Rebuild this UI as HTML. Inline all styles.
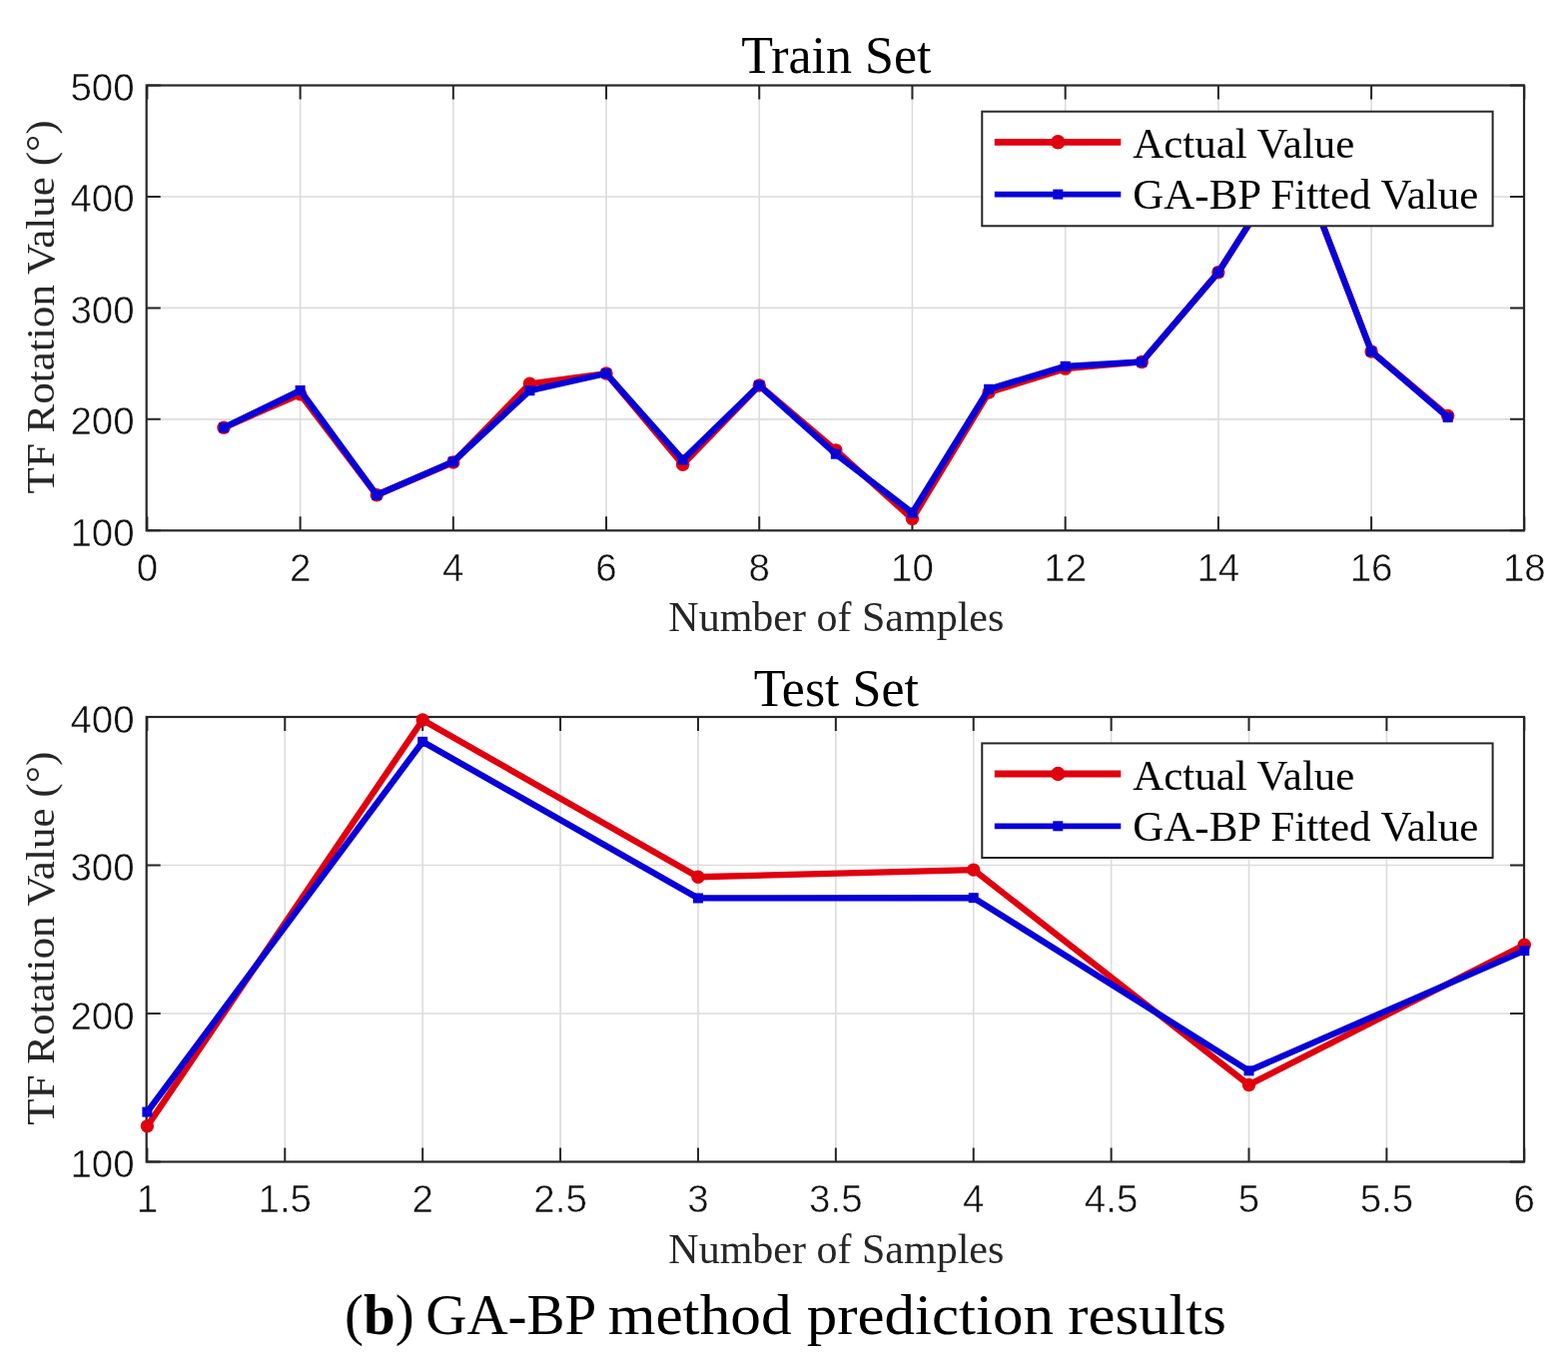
<!DOCTYPE html>
<html><head><meta charset="utf-8"><title>GA-BP method prediction results</title>
<style>html,body{margin:0;padding:0;background:#fff;}svg{display:block;}</style>
</head><body>
<svg width="1570" height="1370" viewBox="0 0 1570 1370">
<rect width="1570" height="1370" fill="#fff"/>
<path d="M300.61 85.5V531.3M453.82 85.5V531.3M607.03 85.5V531.3M760.24 85.5V531.3M913.46 85.5V531.3M1066.67 85.5V531.3M1219.88 85.5V531.3M1373.09 85.5V531.3M146.7 419.85H1526M146.7 308.4H1526M146.7 196.95H1526" stroke="#dcdcdc" stroke-width="1.6" fill="none"/>
<path d="M147.4 531.3v-14M147.4 85.5v14M300.61 531.3v-14M300.61 85.5v14M453.82 531.3v-14M453.82 85.5v14M607.03 531.3v-14M607.03 85.5v14M760.24 531.3v-14M760.24 85.5v14M913.46 531.3v-14M913.46 85.5v14M1066.67 531.3v-14M1066.67 85.5v14M1219.88 531.3v-14M1219.88 85.5v14M1373.09 531.3v-14M1373.09 85.5v14M1526.3 531.3v-14M1526.3 85.5v14M146.7 531.3h14M1526 531.3h-14M146.7 419.85h14M1526 419.85h-14M146.7 308.4h14M1526 308.4h-14M146.7 196.95h14M1526 196.95h-14M146.7 85.5h14M1526 85.5h-14" stroke="#262626" stroke-width="2" fill="none"/>
<rect x="146.7" y="85.5" width="1379.3" height="445.8" fill="none" stroke="#262626" stroke-width="2.2"/>
<g>
<polyline points="224.01,428.32 300.61,394.77 377.22,495.75 453.82,462.98 530.43,384.3 607.03,374.04 683.64,465.32 760.24,385.97 836.85,450.83 913.46,519.6 990.06,393.1 1066.67,369.14 1143.27,362.45 1219.88,272.74 1296.48,152.37 1373.09,351.98 1449.69,416.51" fill="none" stroke="#e0000e" stroke-width="6.3" stroke-linejoin="round"/>
<circle cx="224.01" cy="428.32" r="6.7" fill="#e0000e"/>
<circle cx="300.61" cy="394.77" r="6.7" fill="#e0000e"/>
<circle cx="377.22" cy="495.75" r="6.7" fill="#e0000e"/>
<circle cx="453.82" cy="462.98" r="6.7" fill="#e0000e"/>
<circle cx="530.43" cy="384.3" r="6.7" fill="#e0000e"/>
<circle cx="607.03" cy="374.04" r="6.7" fill="#e0000e"/>
<circle cx="683.64" cy="465.32" r="6.7" fill="#e0000e"/>
<circle cx="760.24" cy="385.97" r="6.7" fill="#e0000e"/>
<circle cx="836.85" cy="450.83" r="6.7" fill="#e0000e"/>
<circle cx="913.46" cy="519.6" r="6.7" fill="#e0000e"/>
<circle cx="990.06" cy="393.1" r="6.7" fill="#e0000e"/>
<circle cx="1066.67" cy="369.14" r="6.7" fill="#e0000e"/>
<circle cx="1143.27" cy="362.45" r="6.7" fill="#e0000e"/>
<circle cx="1219.88" cy="272.74" r="6.7" fill="#e0000e"/>
<circle cx="1296.48" cy="152.37" r="6.7" fill="#e0000e"/>
<circle cx="1373.09" cy="351.98" r="6.7" fill="#e0000e"/>
<circle cx="1449.69" cy="416.51" r="6.7" fill="#e0000e"/>
<polyline points="224.01,428.32 300.61,390.98 377.22,495.75 453.82,462.42 530.43,391.21 607.03,374.04 683.64,460.42 760.24,385.97 836.85,454.73 913.46,513.47 990.06,389.76 1066.67,366.8 1143.27,362.45 1219.88,272.74 1296.48,152.37 1373.09,351.98 1449.69,417.96" fill="none" stroke="#0800d8" stroke-width="6.3" stroke-linejoin="round"/>
<rect x="219.01" y="423.32" width="10" height="10" fill="#0800d8"/>
<rect x="295.61" y="385.98" width="10" height="10" fill="#0800d8"/>
<rect x="372.22" y="490.75" width="10" height="10" fill="#0800d8"/>
<rect x="448.82" y="457.42" width="10" height="10" fill="#0800d8"/>
<rect x="525.43" y="386.21" width="10" height="10" fill="#0800d8"/>
<rect x="602.03" y="369.04" width="10" height="10" fill="#0800d8"/>
<rect x="678.64" y="455.42" width="10" height="10" fill="#0800d8"/>
<rect x="755.24" y="380.97" width="10" height="10" fill="#0800d8"/>
<rect x="831.85" y="449.73" width="10" height="10" fill="#0800d8"/>
<rect x="908.46" y="508.47" width="10" height="10" fill="#0800d8"/>
<rect x="985.06" y="384.76" width="10" height="10" fill="#0800d8"/>
<rect x="1061.67" y="361.8" width="10" height="10" fill="#0800d8"/>
<rect x="1138.27" y="357.45" width="10" height="10" fill="#0800d8"/>
<rect x="1214.88" y="267.74" width="10" height="10" fill="#0800d8"/>
<rect x="1291.48" y="147.37" width="10" height="10" fill="#0800d8"/>
<rect x="1368.09" y="346.98" width="10" height="10" fill="#0800d8"/>
<rect x="1444.69" y="412.96" width="10" height="10" fill="#0800d8"/>
</g>
<rect x="983.3" y="111.7" width="511.3" height="114.6" fill="#fff" stroke="#262626" stroke-width="2"/>
<line x1="995.8" y1="142.3" x2="1122.3" y2="142.3" stroke="#e0000e" stroke-width="6.8"/>
<circle cx="1059.3" cy="142.3" r="7.2" fill="#e0000e"/>
<line x1="995.8" y1="194.6" x2="1122.3" y2="194.6" stroke="#0800d8" stroke-width="5.8"/>
<rect x="1054.3" y="189.6" width="10" height="10" fill="#0800d8"/>
<text x="1134.3" y="158.3" font-family="'Liberation Serif', 'Times New Roman', serif" font-size="43" fill="#000" textLength="222" lengthAdjust="spacingAndGlyphs">Actual Value</text>
<text x="1134.3" y="209.4" font-family="'Liberation Serif', 'Times New Roman', serif" font-size="43" fill="#000" textLength="346" lengthAdjust="spacingAndGlyphs">GA-BP Fitted Value</text>
<text x="147.4" y="581.8" text-anchor="middle" font-family="'Liberation Sans', Arial, sans-serif" font-size="38.5" fill="#111" stroke="#fff" stroke-width="0.5">0</text>
<text x="300.61" y="581.8" text-anchor="middle" font-family="'Liberation Sans', Arial, sans-serif" font-size="38.5" fill="#111" stroke="#fff" stroke-width="0.5">2</text>
<text x="453.82" y="581.8" text-anchor="middle" font-family="'Liberation Sans', Arial, sans-serif" font-size="38.5" fill="#111" stroke="#fff" stroke-width="0.5">4</text>
<text x="607.03" y="581.8" text-anchor="middle" font-family="'Liberation Sans', Arial, sans-serif" font-size="38.5" fill="#111" stroke="#fff" stroke-width="0.5">6</text>
<text x="760.24" y="581.8" text-anchor="middle" font-family="'Liberation Sans', Arial, sans-serif" font-size="38.5" fill="#111" stroke="#fff" stroke-width="0.5">8</text>
<text x="913.46" y="581.8" text-anchor="middle" font-family="'Liberation Sans', Arial, sans-serif" font-size="38.5" fill="#111" stroke="#fff" stroke-width="0.5">10</text>
<text x="1066.67" y="581.8" text-anchor="middle" font-family="'Liberation Sans', Arial, sans-serif" font-size="38.5" fill="#111" stroke="#fff" stroke-width="0.5">12</text>
<text x="1219.88" y="581.8" text-anchor="middle" font-family="'Liberation Sans', Arial, sans-serif" font-size="38.5" fill="#111" stroke="#fff" stroke-width="0.5">14</text>
<text x="1373.09" y="581.8" text-anchor="middle" font-family="'Liberation Sans', Arial, sans-serif" font-size="38.5" fill="#111" stroke="#fff" stroke-width="0.5">16</text>
<text x="1526.3" y="581.8" text-anchor="middle" font-family="'Liberation Sans', Arial, sans-serif" font-size="38.5" fill="#111" stroke="#fff" stroke-width="0.5">18</text>
<text x="134.7" y="546.8" text-anchor="end" font-family="'Liberation Sans', Arial, sans-serif" font-size="38.5" fill="#111" stroke="#fff" stroke-width="0.5">100</text>
<text x="134.7" y="435.35" text-anchor="end" font-family="'Liberation Sans', Arial, sans-serif" font-size="38.5" fill="#111" stroke="#fff" stroke-width="0.5">200</text>
<text x="134.7" y="323.9" text-anchor="end" font-family="'Liberation Sans', Arial, sans-serif" font-size="38.5" fill="#111" stroke="#fff" stroke-width="0.5">300</text>
<text x="134.7" y="212.45" text-anchor="end" font-family="'Liberation Sans', Arial, sans-serif" font-size="38.5" fill="#111" stroke="#fff" stroke-width="0.5">400</text>
<text x="134.7" y="101" text-anchor="end" font-family="'Liberation Sans', Arial, sans-serif" font-size="38.5" fill="#111" stroke="#fff" stroke-width="0.5">500</text>
<text x="837.35" y="73.3" text-anchor="middle" font-family="'Liberation Serif', 'Times New Roman', serif" font-size="52" fill="#000">Train Set</text>
<text x="837.35" y="632.3" text-anchor="middle" font-family="'Liberation Serif', 'Times New Roman', serif" font-size="42" fill="#262626">Number of Samples</text>
<text transform="translate(53.5 307.4) rotate(-90)" text-anchor="middle" font-family="'Liberation Serif', 'Times New Roman', serif" font-size="41" fill="#262626" textLength="374" lengthAdjust="spacingAndGlyphs">TF Rotation Value (°)</text>
<path d="M285.29 718V1163.5M423.18 718V1163.5M561.07 718V1163.5M698.96 718V1163.5M836.85 718V1163.5M974.74 718V1163.5M1112.63 718V1163.5M1250.52 718V1163.5M1388.41 718V1163.5M146.7 1015H1526M146.7 866.5H1526" stroke="#dcdcdc" stroke-width="1.6" fill="none"/>
<path d="M147.4 1163.5v-14M147.4 718v14M285.29 1163.5v-14M285.29 718v14M423.18 1163.5v-14M423.18 718v14M561.07 1163.5v-14M561.07 718v14M698.96 1163.5v-14M698.96 718v14M836.85 1163.5v-14M836.85 718v14M974.74 1163.5v-14M974.74 718v14M1112.63 1163.5v-14M1112.63 718v14M1250.52 1163.5v-14M1250.52 718v14M1388.41 1163.5v-14M1388.41 718v14M1526.3 1163.5v-14M1526.3 718v14M146.7 1163.5h14M1526 1163.5h-14M146.7 1015h14M1526 1015h-14M146.7 866.5h14M1526 866.5h-14M146.7 718h14M1526 718h-14" stroke="#262626" stroke-width="2" fill="none"/>
<rect x="146.7" y="718" width="1379.3" height="445.5" fill="none" stroke="#262626" stroke-width="2.2"/>
<g>
<polyline points="147.4,1127.86 423.18,720.97 698.96,878.23 974.74,871.1 1250.52,1086.43 1526.3,946.24" fill="none" stroke="#e0000e" stroke-width="6.3" stroke-linejoin="round"/>
<circle cx="147.4" cy="1127.86" r="6.7" fill="#e0000e"/>
<circle cx="423.18" cy="720.97" r="6.7" fill="#e0000e"/>
<circle cx="698.96" cy="878.23" r="6.7" fill="#e0000e"/>
<circle cx="974.74" cy="871.1" r="6.7" fill="#e0000e"/>
<circle cx="1250.52" cy="1086.43" r="6.7" fill="#e0000e"/>
<circle cx="1526.3" cy="946.24" r="6.7" fill="#e0000e"/>
<polyline points="147.4,1113.6 423.18,742.8 698.96,899.47 974.74,899.17 1250.52,1072.32 1526.3,952.04" fill="none" stroke="#0800d8" stroke-width="6.3" stroke-linejoin="round"/>
<rect x="142.4" y="1108.6" width="10" height="10" fill="#0800d8"/>
<rect x="418.18" y="737.8" width="10" height="10" fill="#0800d8"/>
<rect x="693.96" y="894.47" width="10" height="10" fill="#0800d8"/>
<rect x="969.74" y="894.17" width="10" height="10" fill="#0800d8"/>
<rect x="1245.52" y="1067.32" width="10" height="10" fill="#0800d8"/>
<rect x="1521.3" y="947.04" width="10" height="10" fill="#0800d8"/>
</g>
<rect x="983.3" y="744.4" width="511.3" height="114.6" fill="#fff" stroke="#262626" stroke-width="2"/>
<line x1="995.8" y1="775" x2="1122.3" y2="775" stroke="#e0000e" stroke-width="6.8"/>
<circle cx="1059.3" cy="775" r="7.2" fill="#e0000e"/>
<line x1="995.8" y1="827.3" x2="1122.3" y2="827.3" stroke="#0800d8" stroke-width="5.8"/>
<rect x="1054.3" y="822.3" width="10" height="10" fill="#0800d8"/>
<text x="1134.3" y="791" font-family="'Liberation Serif', 'Times New Roman', serif" font-size="43" fill="#000" textLength="222" lengthAdjust="spacingAndGlyphs">Actual Value</text>
<text x="1134.3" y="842.1" font-family="'Liberation Serif', 'Times New Roman', serif" font-size="43" fill="#000" textLength="346" lengthAdjust="spacingAndGlyphs">GA-BP Fitted Value</text>
<text x="147.4" y="1214" text-anchor="middle" font-family="'Liberation Sans', Arial, sans-serif" font-size="38.5" fill="#111" stroke="#fff" stroke-width="0.5">1</text>
<text x="285.29" y="1214" text-anchor="middle" font-family="'Liberation Sans', Arial, sans-serif" font-size="38.5" fill="#111" stroke="#fff" stroke-width="0.5">1.5</text>
<text x="423.18" y="1214" text-anchor="middle" font-family="'Liberation Sans', Arial, sans-serif" font-size="38.5" fill="#111" stroke="#fff" stroke-width="0.5">2</text>
<text x="561.07" y="1214" text-anchor="middle" font-family="'Liberation Sans', Arial, sans-serif" font-size="38.5" fill="#111" stroke="#fff" stroke-width="0.5">2.5</text>
<text x="698.96" y="1214" text-anchor="middle" font-family="'Liberation Sans', Arial, sans-serif" font-size="38.5" fill="#111" stroke="#fff" stroke-width="0.5">3</text>
<text x="836.85" y="1214" text-anchor="middle" font-family="'Liberation Sans', Arial, sans-serif" font-size="38.5" fill="#111" stroke="#fff" stroke-width="0.5">3.5</text>
<text x="974.74" y="1214" text-anchor="middle" font-family="'Liberation Sans', Arial, sans-serif" font-size="38.5" fill="#111" stroke="#fff" stroke-width="0.5">4</text>
<text x="1112.63" y="1214" text-anchor="middle" font-family="'Liberation Sans', Arial, sans-serif" font-size="38.5" fill="#111" stroke="#fff" stroke-width="0.5">4.5</text>
<text x="1250.52" y="1214" text-anchor="middle" font-family="'Liberation Sans', Arial, sans-serif" font-size="38.5" fill="#111" stroke="#fff" stroke-width="0.5">5</text>
<text x="1388.41" y="1214" text-anchor="middle" font-family="'Liberation Sans', Arial, sans-serif" font-size="38.5" fill="#111" stroke="#fff" stroke-width="0.5">5.5</text>
<text x="1526.3" y="1214" text-anchor="middle" font-family="'Liberation Sans', Arial, sans-serif" font-size="38.5" fill="#111" stroke="#fff" stroke-width="0.5">6</text>
<text x="134.7" y="1179" text-anchor="end" font-family="'Liberation Sans', Arial, sans-serif" font-size="38.5" fill="#111" stroke="#fff" stroke-width="0.5">100</text>
<text x="134.7" y="1030.5" text-anchor="end" font-family="'Liberation Sans', Arial, sans-serif" font-size="38.5" fill="#111" stroke="#fff" stroke-width="0.5">200</text>
<text x="134.7" y="882" text-anchor="end" font-family="'Liberation Sans', Arial, sans-serif" font-size="38.5" fill="#111" stroke="#fff" stroke-width="0.5">300</text>
<text x="134.7" y="733.5" text-anchor="end" font-family="'Liberation Sans', Arial, sans-serif" font-size="38.5" fill="#111" stroke="#fff" stroke-width="0.5">400</text>
<text x="837.35" y="706.5" text-anchor="middle" font-family="'Liberation Serif', 'Times New Roman', serif" font-size="52" fill="#000">Test Set</text>
<text x="837.35" y="1264.5" text-anchor="middle" font-family="'Liberation Serif', 'Times New Roman', serif" font-size="42" fill="#262626">Number of Samples</text>
<text transform="translate(53.5 939.75) rotate(-90)" text-anchor="middle" font-family="'Liberation Serif', 'Times New Roman', serif" font-size="41" fill="#262626" textLength="374" lengthAdjust="spacingAndGlyphs">TF Rotation Value (°)</text>
<g font-family="'Liberation Serif', 'Times New Roman', serif" font-size="57" fill="#000">
<text x="345" y="1335.8">(<tspan font-weight="bold">b</tspan>)</text>
<text x="426.3" y="1335.8">GA-BP</text>
<text x="608.7" y="1335.8" textLength="184" lengthAdjust="spacingAndGlyphs">method</text>
<text x="807.7" y="1335.8" textLength="247.3" lengthAdjust="spacingAndGlyphs">prediction</text>
<text x="1069.3" y="1335.8" textLength="158.6" lengthAdjust="spacingAndGlyphs">results</text>
</g>
</svg>
</body></html>
